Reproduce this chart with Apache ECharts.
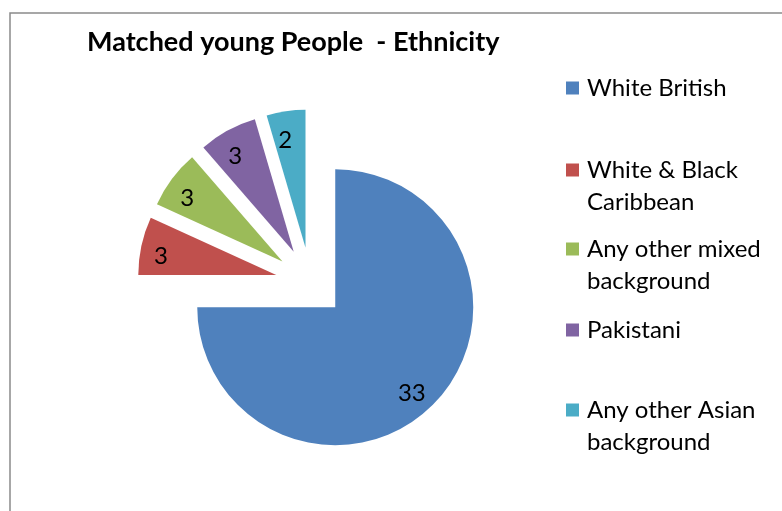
<!DOCTYPE html>
<html>
<head>
<meta charset="utf-8">
<title>Matched young People - Ethnicity</title>
<script src="https://cdn.jsdelivr.net/npm/echarts@6/dist/echarts.min.js"></script>
<style>
    html, body { margin: 0; padding: 0; background: #fff; }
    #chart { width: 782px; height: 511px; }
</style>
</head>
<body>
<div id="chart"></div>
<script>
    // data
    var categories = ['White British', 'White & Black Caribbean', 'Any other mixed background', 'Pakistani', 'Any other Asian background'];
    var legendLines = [['White British'], ['White & Black', 'Caribbean'], ['Any other mixed', 'background'], ['Pakistani'], ['Any other Asian', 'background']];
    var counts = [33, 3, 3, 3, 2];
    var colors = ['#4F81BD', '#C0504D', '#9BBB59', '#8064A2', '#4BACC6'];

    (function () {
        "use strict";

        var FONT = 'Lato, "Open Sans", sans-serif',
            center = [310.5, 282.5],
            labelCenter = [306.5, 287.5],
            radius = 138,
            explode = 35,
            // legend icon centres (y) and left edge
            legendY = [88, 170, 249, 330, 410],
            legendX = 566,
            mainData = [], labelData = [], legends = [],
            i, twoLines;

        var legendText = function (lines) {
            var out = [], j;
            // legend text is centred on the icon: an empty first line puts
            // the first real line level with the icon
            if (lines.length > 1) {
                out.push('');
            }
            for (j = 0; j < lines.length; j++) {
                out.push('{t|' + lines[j] + '}');
            }
            return out.join('\n');
        };

        for (i = 0; i < categories.length; i++) {
            mainData.push({
                name: categories[i],
                value: counts[i],
                selected: true,
                itemStyle: {color: colors[i]}
            });
            labelData.push({
                name: categories[i],
                value: counts[i],
                selected: true
            });

            twoLines = legendLines[i].length > 1;
            legends.push({
                orient: 'vertical',
                left: legendX,
                top: legendY[i] - (twoLines ? 48 : 16),
                padding: 0,
                icon: 'rect',
                itemWidth: 13,
                itemHeight: 13,
                itemGap: 0,
                selectedMode: false,
                data: [categories[i]],
                formatter: (function (text) {
                    return function () { return text; };
                })(legendText(legendLines[i])),
                textStyle: {
                    fontFamily: FONT,
                    fontSize: 24,
                    lineHeight: 32,
                    color: '#000',
                    rich: {
                        t: {
                            fontFamily: FONT,
                            fontSize: 24,
                            lineHeight: 32,
                            color: '#000',
                            padding: [0, 0, 0, 3]
                        }
                    }
                }
            });
        }

        var chart = echarts.init(document.getElementById('chart'), null, {renderer: 'canvas'});

        chart.setOption({
            backgroundColor: '#fff',
            animation: false,
            title: {
                text: 'Matched young People  - Ethnicity',
                left: 87,
                top: 29,
                padding: 0,
                textStyle: {
                    fontFamily: FONT,
                    fontWeight: 'bold',
                    fontSize: 27,
                    color: '#000'
                }
            },
            legend: legends,
            graphic: [{
                type: 'rect',
                silent: true,
                shape: {x: 10, y: 13, width: 800, height: 520},
                style: {fill: 'none', stroke: '#8a8a8a', lineWidth: 1.5}
            }],
            series: [{
                type: 'pie',
                center: center,
                radius: [0, radius],
                startAngle: 90,
                clockwise: true,
                selectedMode: 'multiple',
                selectedOffset: explode,
                avoidLabelOverlap: false,
                label: {show: false},
                labelLine: {show: false},
                emphasis: {disabled: true},
                data: mainData
            }, {
                // transparent copy only to place the value labels further out
                type: 'pie',
                silent: true,
                center: labelCenter,
                radius: [84, radius],
                startAngle: 90,
                clockwise: true,
                selectedMode: 'multiple',
                selectedOffset: explode,
                avoidLabelOverlap: false,
                itemStyle: {color: 'rgba(0,0,0,0)'},
                label: {
                    show: true,
                    position: 'inside',
                    formatter: '{c}',
                    fontFamily: FONT,
                    fontSize: 24,
                    color: '#000'
                },
                labelLine: {show: false},
                emphasis: {disabled: true},
                data: labelData
            }]
        });
    })();
</script>
</body>
</html>
